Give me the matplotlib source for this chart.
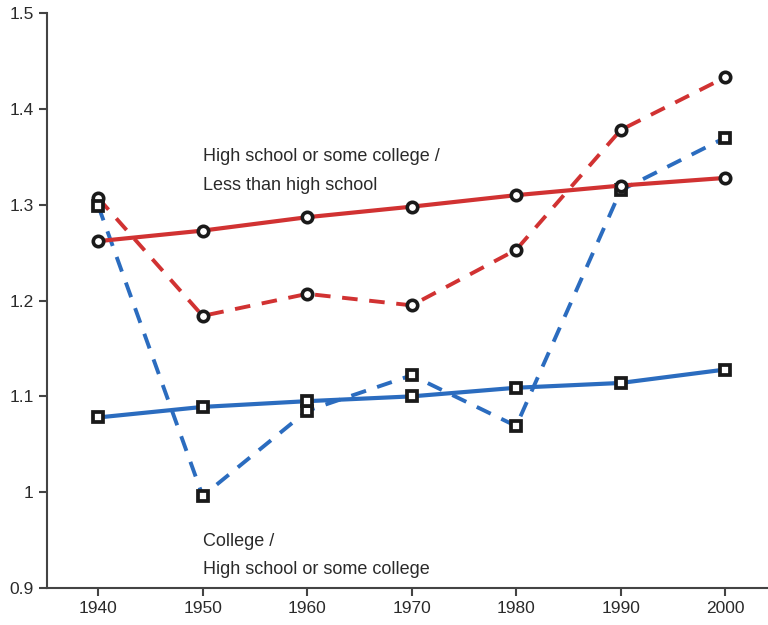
import numpy as np
import matplotlib.pyplot as plt

plt.rcParams['font.family'] = ['Liberation Sans', 'DejaVu Sans']

years = [1940, 1950, 1960, 1970, 1980, 1990, 2000]

# High school or some college / Less than high school
hs_trend = [1.262, 1.273, 1.287, 1.298, 1.310, 1.320, 1.328]
hs_actual = [1.307, 1.184, 1.207, 1.195, 1.253, 1.378, 1.433]

# College / High school or some college
col_trend = [1.078, 1.089, 1.095, 1.100, 1.109, 1.114, 1.128]
col_actual = [1.299, 0.996, 1.085, 1.122, 1.069, 1.315, 1.370]

red = '#d13232'
blue = '#2b6cbf'

fig = plt.figure(figsize=(7.68, 6.25), dpi=100)
ax = fig.add_axes([0.0612, 0.0592, 0.9388, 0.9198])

mk_c = dict(marker='o', markersize=7.5, markerfacecolor='white',
            markeredgecolor='#1a1a1a', markeredgewidth=2.6)
mk_s = dict(marker='s', markersize=6.5, markerfacecolor='white',
            markeredgecolor='#1a1a1a', markeredgewidth=2.7)

ax.plot(years, hs_actual, color=red, lw=2.8, ls=(0, (4, 3)), zorder=2, **mk_c)
ax.plot(years, col_actual, color=blue, lw=2.8, ls=(0, (4, 3)), zorder=2, **mk_s)
ax.plot(years, hs_trend, color=red, lw=3, zorder=3, **mk_c)
ax.plot(years, col_trend, color=blue, lw=3, zorder=3, **mk_s)

txt = dict(fontsize=13, color='#2a2a2a', va='center', ha='left')
ax.text(1950.05, 1.35, 'High school or some college /', **txt)
ax.text(1950.05, 1.32, 'Less than high school', **txt)
ax.text(1950.05, 0.949, 'College /', **txt)
ax.text(1950.05, 0.919, 'High school or some college', **txt)

ax.set_xlim(1935.1, 2004.1)
ax.set_ylim(0.9, 1.5)
ax.set_xticks(years)
ax.set_yticks([0.9, 1.0, 1.1, 1.2, 1.3, 1.4, 1.5])
ax.set_yticklabels(['0.9', '1', '1.1', '1.2', '1.3', '1.4', '1.5'])

for s in ['top', 'right']:
    ax.spines[s].set_visible(False)
for s in ['left', 'bottom']:
    ax.spines[s].set_color('#444444')
    ax.spines[s].set_linewidth(1.5)
ax.tick_params(direction='out', length=6, width=1.5, color='#444444',
               labelsize=12.5, labelcolor='#2a2a2a')

fig.savefig('out.png', dpi=100)
